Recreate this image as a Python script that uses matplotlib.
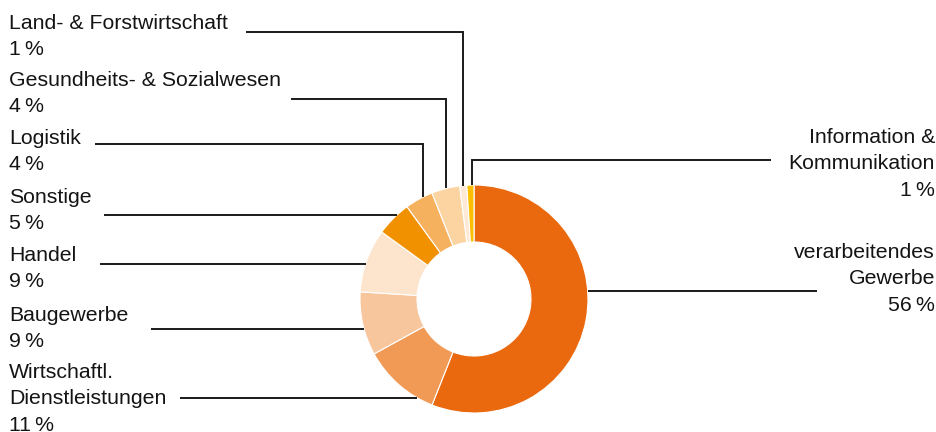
import numpy as np
import matplotlib
matplotlib.use("Agg")
import matplotlib.pyplot as plt

plt.rcParams['font.family'] = ['Liberation Sans', 'DejaVu Sans']

# clockwise from 12 o'clock
sectors = ["verarbeitendes Gewerbe", "Wirtschaftl. Dienstleistungen", "Baugewerbe",
           "Handel", "Sonstige", "Logistik", "Gesundheits- & Sozialwesen",
           "Land- & Forstwirtschaft", "Information & Kommunikation"]
shares = [56, 11, 9, 9, 5, 4, 4, 1, 1]
colors = ["#ea690f", "#f09a56", "#f8c69c", "#fde4cd", "#f19100",
          "#f6b15f", "#fbd4a2", "#fde9d6", "#fdbd00"]
label_lines = [["verarbeitendes", "Gewerbe"], ["Wirtschaftl.", "Dienstleistungen"],
               ["Baugewerbe"], ["Handel"], ["Sonstige"], ["Logistik"],
               ["Gesundheits- & Sozialwesen"], ["Land- & Forstwirtschaft"],
               ["Information &", "Kommunikation"]]

# layout (pixels, y downwards)
W, H = 937, 432
cx, cy, R = 474, 299, 114
# side, first baseline, leader y, leader start x, elbow x (None = straight)
layout = {
    "verarbeitendes Gewerbe":        ("r", 258, 291, 817, None),
    "Wirtschaftl. Dienstleistungen": ("l", 378, 398, 180, None),
    "Baugewerbe":                    ("l", 321, 329, 151, None),
    "Handel":                        ("l", 261, 264, 100, None),
    "Sonstige":                      ("l", 203, 215, 104, None),
    "Logistik":                      ("l", 144, 144, 95, 423),
    "Gesundheits- & Sozialwesen":    ("l", 86, 99, 291, 446),
    "Land- & Forstwirtschaft":       ("l", 29, 32, 246, 463),
    "Information & Kommunikation":   ("r", 143, 160, 771, 472),
}
step = 26.3
txt = "#141414"
fs = 15.3

fig = plt.figure(figsize=(W / 100, H / 100), dpi=100)
ax = fig.add_axes([0, 0, 1, 1])
ax.pie(shares, colors=colors, center=(cx, cy), radius=R, startangle=-90,
       counterclock=True, wedgeprops=dict(width=R / 2, edgecolor="white", linewidth=0.8))
ax.set_xlim(0, W)
ax.set_ylim(H, 0)
ax.set_aspect("equal")
ax.axis("off")

for name, share, lines in zip(sectors, shares, label_lines):
    side, base, ly, x0, xe = layout[name]
    rows = lines + ["%d\u2009%%" % share]
    for i, row in enumerate(rows):
        if side == "l":
            ax.text(9, base + i * step, row, ha="left", va="baseline", fontsize=fs, color=txt)
        else:
            ax.text(935, base + i * step, row, ha="right", va="baseline", fontsize=fs, color=txt)
    if xe is None:
        dx = np.sqrt(R ** 2 - (ly - cy) ** 2)
        x1 = cx - dx if side == "l" else cx + dx
        ax.plot([x0, x1], [ly, ly], color="#1a1a1a", lw=1.4, solid_capstyle="butt")
    else:
        y1 = cy - np.sqrt(R ** 2 - (xe - cx) ** 2)
        ax.plot([x0, xe, xe], [ly, ly, y1], color="#1a1a1a", lw=1.4,
                solid_capstyle="butt", solid_joinstyle="miter")

fig.savefig("out.png", dpi=100)
